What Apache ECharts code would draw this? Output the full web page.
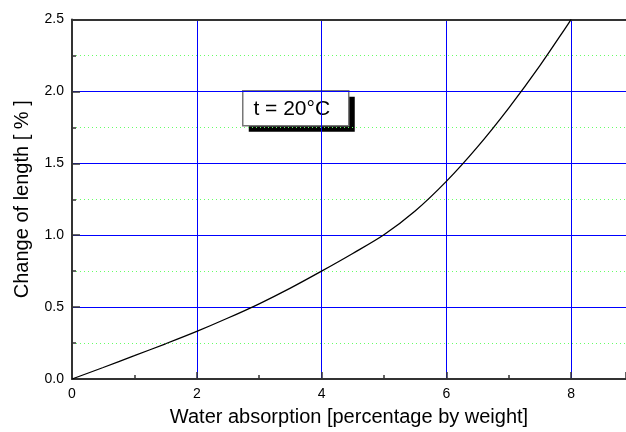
<!DOCTYPE html>
<html>
<head>
<meta charset="utf-8">
<script src="https://cdn.jsdelivr.net/npm/echarts@6/dist/echarts.min.js"></script>
<style>html,body{margin:0;padding:0;background:#fff;}#c{width:626px;height:432px;}</style>
</head>
<body>
<div id="c"></div>
<script>
const xValues = [0, 0.5, 1, 1.5, 2, 2.5, 3, 3.5, 4, 4.5, 5, 5.5, 6, 6.5, 7, 7.5, 8];
const yValues = [0, 0.08, 0.162, 0.245, 0.331, 0.424, 0.523, 0.632, 0.75, 0.873, 1.003, 1.168, 1.374, 1.614, 1.884, 2.179, 2.5];
const xTitle = 'Water absorption [percentage by weight]';
const yTitle = 'Change of length [ % ]';
const annotation = 't = 20°C';

const chart = echarts.init(document.getElementById('c'), null, {renderer: 'canvas'});
const font = 'Liberation Sans, Arial, sans-serif';
chart.setOption({
  animation: false,
  grid: {left: 72, right: 0, top: 19.5, bottom: 50, containLabel: false},
  xAxis: [{
    type: 'value', min: 0, max: 8.88, interval: 2,
    name: xTitle, nameLocation: 'middle', nameGap: 28,
    nameTextStyle: {fontFamily: font, fontSize: 20, color: '#000'},
    axisLine: {show: true, lineStyle: {color: '#333', width: 2}},
    axisTick: {show: true, inside: true, length: 7, lineStyle: {color: '#333', width: 1.5}},
    minorTick: {show: true, splitNumber: 2, length: 4, lineStyle: {color: '#333', width: 1.5}},
    axisLabel: {fontFamily: font, fontSize: 14, color: '#000', margin: 8, showMaxLabel: false},
    splitLine: {show: true, lineStyle: {color: '#0000ff', width: 1}},
    minorSplitLine: {show: false}
  }, {
    type: 'value', position: 'top', min: 0, max: 8.88,
    axisLine: {show: true, lineStyle: {color: '#333', width: 2}},
    axisTick: {show: false}, axisLabel: {show: false}, splitLine: {show: false}
  }],
  yAxis: {
    type: 'value', min: 0, max: 2.5, interval: 0.5,
    name: yTitle, nameLocation: 'middle', nameGap: 40,
    nameTextStyle: {fontFamily: font, fontSize: 20, color: '#000'},
    axisLine: {show: true, lineStyle: {color: '#333', width: 2}},
    axisTick: {show: true, inside: true, length: 8, lineStyle: {color: '#333', width: 1.5}},
    minorTick: {show: true, splitNumber: 2, length: 4, lineStyle: {color: '#333', width: 1.5}},
    axisLabel: {fontFamily: font, fontSize: 14, color: '#000', margin: 8, formatter: v => v.toFixed(1)},
    splitLine: {show: true, lineStyle: {color: '#0000ff', width: 1}},
    minorSplitLine: {show: true, lineStyle: {color: '#66ff66', width: 1, type: [1, 3]}}
  },
  series: [{
    type: 'line', xAxisIndex: 0,
    data: xValues.map((x, i) => [x, yValues[i]]),
    smooth: 0.3, showSymbol: false, symbol: 'none',
    lineStyle: {color: '#000', width: 1.3}
  }],
  graphic: [{
    type: 'group', left: 242, top: 90,
    children: [
      {type: 'rect', shape: {x: 6, y: 6, width: 106, height: 35}, style: {fill: '#000'}},
      {type: 'rect', shape: {x: 0, y: 0, width: 106, height: 35}, style: {fill: '#fff', stroke: '#777', lineWidth: 1.5}},
      {type: 'text', x: 49, y: 18, style: {text: annotation, fontFamily: font, fontSize: 21, fill: '#000', align: 'center', verticalAlign: 'middle'}}
    ]
  }]
});
</script>
</body>
</html>
